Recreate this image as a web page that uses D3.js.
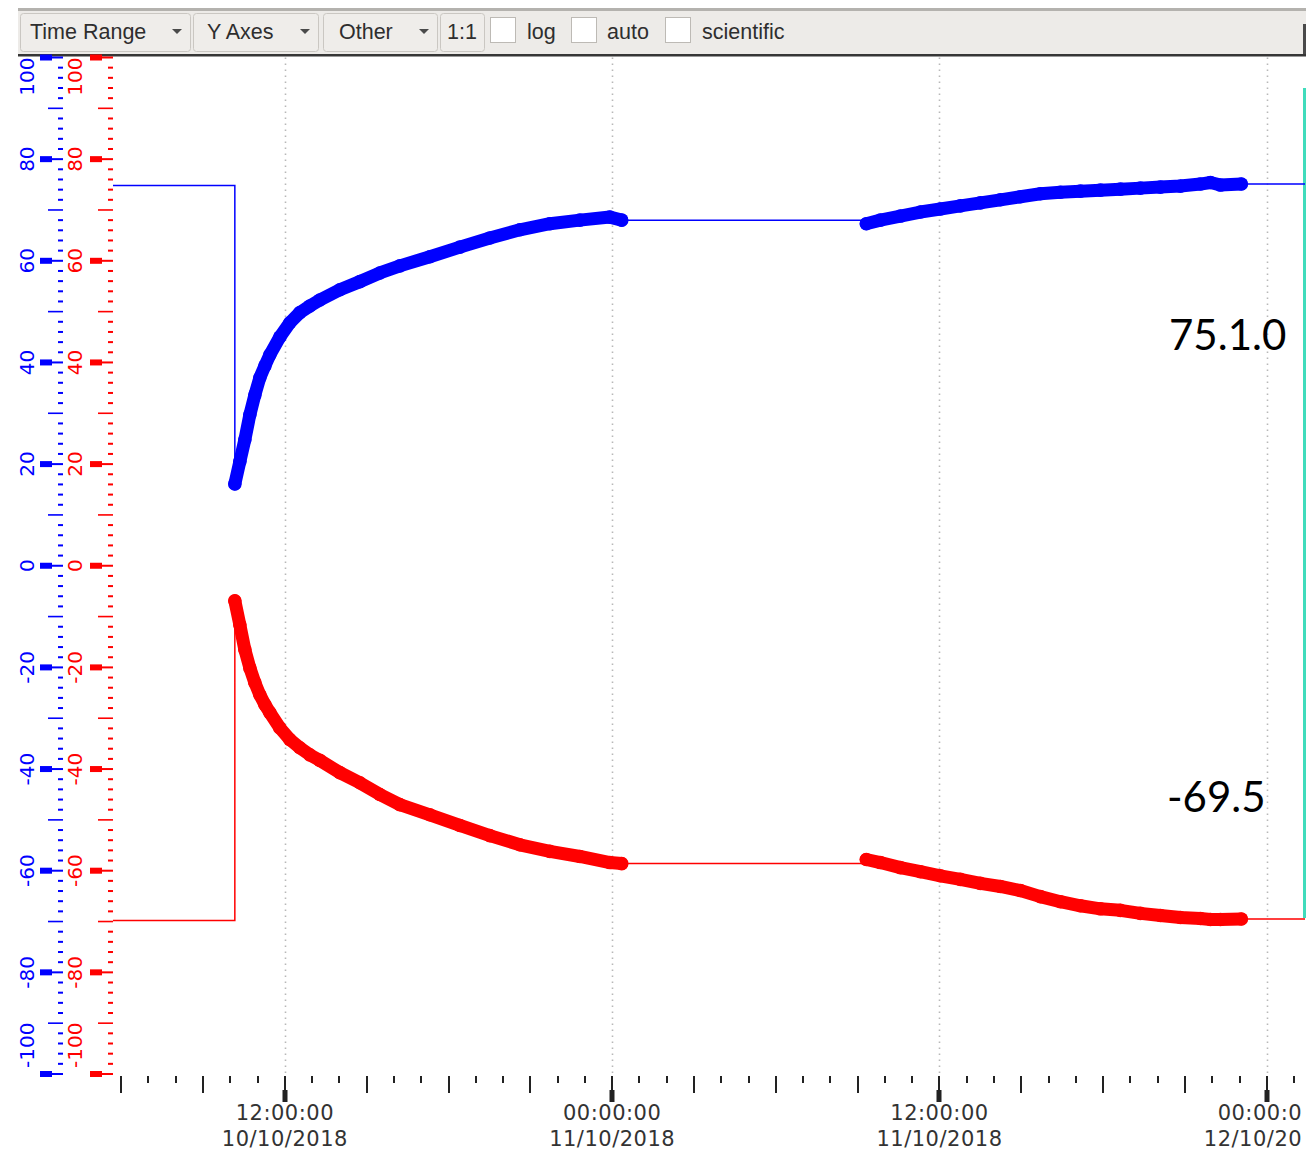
<!DOCTYPE html>
<html>
<head>
<meta charset="utf-8">
<script src="https://cdn.jsdelivr.net/npm/d3@7"></script>
<style>
  body { margin: 0; background: #fff; }
  svg { display: block; }
</style>
</head>
<body>
<svg id="chart" width="1306" height="1151"></svg>
<script>
// ---- data -------------------------------------------------------------
const menuLabels = ["Time Range", "Y Axes", "Other"];
const ratioLabel = "1:1";
const optionLabels = ["log", "auto", "scientific"];

// last archived sample before the visible window
const priorTime = "2018-10-10 04:00";
const priorBlue = 74.8;
const priorRed = -69.8;

// first archived run
const run1Times = ["2018-10-10 10:10","2018-10-10 10:21","2018-10-10 10:32","2018-10-10 10:43",
  "2018-10-10 10:54","2018-10-10 11:05","2018-10-10 11:16","2018-10-10 11:27","2018-10-10 11:49",
  "2018-10-10 12:11","2018-10-10 12:33","2018-10-10 12:55","2018-10-10 13:17","2018-10-10 14:01",
  "2018-10-10 14:45","2018-10-10 15:29","2018-10-10 16:13","2018-10-10 17:19","2018-10-10 18:25",
  "2018-10-10 19:31","2018-10-10 20:37","2018-10-10 21:43","2018-10-10 22:49","2018-10-10 23:55",
  "2018-10-11 00:21"];
const run1Blue = [16.1,20.5,24.8,29.7,33.6,37.0,39.3,41.5,45.0,47.8,49.8,51.1,52.3,54.3,55.9,57.6,
  59.0,60.8,62.7,64.5,66.1,67.3,68.0,68.6,68.0];
const run1Red = [-6.9,-11.6,-16.5,-20.1,-23.0,-25.4,-27.3,-28.9,-31.9,-34.2,-35.8,-37.2,-38.3,-40.7,
  -42.7,-45.0,-47.0,-49.0,-51.1,-53.1,-54.9,-56.2,-57.2,-58.4,-58.6];

// second archived run
const run2Times = ["2018-10-11 09:19","2018-10-11 09:50","2018-10-11 10:34","2018-10-11 11:18",
  "2018-10-11 12:02","2018-10-11 12:46","2018-10-11 13:30","2018-10-11 14:14","2018-10-11 14:58",
  "2018-10-11 15:42","2018-10-11 16:26","2018-10-11 17:10","2018-10-11 17:54","2018-10-11 18:38",
  "2018-10-11 19:22","2018-10-11 20:06","2018-10-11 20:50","2018-10-11 21:34","2018-10-11 21:56",
  "2018-10-11 22:18","2018-10-11 23:04"];
const run2Blue = [67.3,68.0,68.8,69.6,70.2,70.8,71.4,72.0,72.6,73.2,73.5,73.7,73.9,74.1,74.3,74.5,
  74.7,75.1,75.4,74.9,75.1];
const run2Red = [-57.8,-58.4,-59.4,-60.2,-61.0,-61.7,-62.5,-63.1,-63.9,-65.1,-66.1,-66.9,-67.5,
  -67.8,-68.4,-68.8,-69.2,-69.4,-69.6,-69.6,-69.5];

const timeWindow = ["2018-10-10 05:42", "2018-10-12 01:24"];
const valueRange = [-100, 100];
const valueLabels = ["75.1.0", "-69.5"];

// ---- setup ------------------------------------------------------------
const parse = d3.timeParse("%Y-%m-%d %H:%M");
const BLUE = "#0000ff", RED = "#ff0000";
const svg = d3.select("#chart");
svg.append("rect").attr("width", 1306).attr("height", 1151).attr("fill", "#fff");

const plot = { left: 113, right: 1305, top: 57.5, bottom: 1074 };
const x = d3.scaleTime().domain(timeWindow.map(parse)).range([plot.left, plot.right]);
const y = d3.scaleLinear().domain(valueRange).range([plot.bottom, plot.top]);

const defs = svg.append("defs");
defs.append("clipPath").attr("id", "plotClip")
  .append("rect").attr("x", plot.left).attr("y", 0).attr("width", 1306 - plot.left).attr("height", 1151);
defs.append("clipPath").attr("id", "labelClip")
  .append("rect").attr("x", 0).attr("y", 0).attr("width", 1302).attr("height", 1151);

// ---- toolbar ----------------------------------------------------------
const tb = svg.append("g").attr("font-family", "'Liberation Sans', Arial, sans-serif")
  .attr("font-size", 21.5).attr("fill", "#2e2e2e");
tb.append("rect").attr("x", 18).attr("y", 8).attr("width", 1288).attr("height", 3).attr("fill", "#b4b2ae");
tb.append("rect").attr("x", 18).attr("y", 11).attr("width", 1288).attr("height", 43).attr("fill", "#edebe8");
tb.append("rect").attr("x", 18).attr("y", 54).attr("width", 1288).attr("height", 2.5).attr("fill", "#363636");
tb.append("rect").attr("x", 1303).attr("y", 24).attr("width", 3).attr("height", 30).attr("fill", "#4a4a4a");

const menuBoxes = [[20, 170, 10], [193, 125, 14], [323, 114, 16]];
menuLabels.forEach((label, i) => {
  const [bx, bw, pad] = menuBoxes[i];
  tb.append("rect").attr("x", bx + 0.5).attr("y", 13.5).attr("width", bw).attr("height", 38)
    .attr("rx", 3).attr("fill", "#efedea").attr("stroke", "#cac7c2");
  tb.append("text").attr("x", bx + pad).attr("y", 39).text(label);
  const ax = bx + bw - 13;
  tb.append("path").attr("d", `M${ax - 5},29 L${ax + 5},29 L${ax},34 Z`).attr("fill", "#4a4a4a");
});
tb.append("rect").attr("x", 440.5).attr("y", 13.5).attr("width", 44).attr("height", 38)
  .attr("rx", 3).attr("fill", "#efedea").attr("stroke", "#cac7c2");
tb.append("text").attr("x", 447).attr("y", 39).text(ratioLabel);

const optionBoxes = [[490, 527], [571, 607], [665, 702]];
optionLabels.forEach((label, i) => {
  const [cx, tx] = optionBoxes[i];
  tb.append("rect").attr("x", cx + 0.5).attr("y", 17.5).attr("width", 25).attr("height", 25)
    .attr("fill", "#fff").attr("stroke", "#bdbab5");
  tb.append("text").attr("x", tx).attr("y", 39).text(label);
});

// ---- right-hand strip -------------------------------------------------
svg.append("rect").attr("x", 1303).attr("y", 88).attr("width", 3).attr("height", 830).attr("fill", "#40dcbc");

// ---- vertical grid ----------------------------------------------------
const hours = d3.timeHour.range(x.domain()[0], x.domain()[1]);
const majors = hours.filter(d => d.getHours() % 12 === 0);
svg.append("g").selectAll("line").data(majors).join("line")
  .attr("x1", d => Math.round(x(d)) + 0.5).attr("x2", d => Math.round(x(d)) + 0.5)
  .attr("y1", plot.top).attr("y2", plot.bottom + 2)
  .attr("stroke", "#b8b8b8").attr("stroke-width", 1.6).attr("stroke-dasharray", "1.6,4.4");

// ---- value axes -------------------------------------------------------
function valueAxis(color, labelX, barX0, barX1, endX, medX0, minX0) {
  const g = svg.append("g").attr("fill", color);
  const ticks = d3.range(valueRange[0], valueRange[1] + 1, 2);
  ticks.forEach(v => {
    const ty = y(v);
    if (v % 20 === 0) {
      g.append("rect").attr("x", barX0).attr("y", ty - 3).attr("width", barX1 - barX0).attr("height", 6);
      g.append("rect").attr("x", barX1).attr("y", ty - 1).attr("width", endX - barX1).attr("height", 2);
    } else if (v % 10 === 0) {
      g.append("rect").attr("x", medX0).attr("y", ty - 0.8).attr("width", endX - medX0).attr("height", 1.6);
    } else {
      g.append("rect").attr("x", minX0).attr("y", ty - 1).attr("width", endX - minX0).attr("height", 2);
    }
  });
  ticks.filter(v => v % 20 === 0).forEach(v => {
    const t = g.append("text").attr("font-family", "'DejaVu Sans', sans-serif").attr("font-size", 20)
      .attr("text-anchor", "middle").attr("dominant-baseline", "central").text(v);
    const half = t.node().getComputedTextLength() / 2;
    const cy = Math.min(Math.max(y(v), plot.top + half), 1068 - half);
    t.attr("transform", `translate(${labelX},${cy}) rotate(-90)`);
  });
}
valueAxis(BLUE, 27, 40, 52, 63, 48, 58);
valueAxis(RED, 75, 90, 102, 113, 98, 108);

// ---- time axis --------------------------------------------------------
const ta = svg.append("g").attr("fill", "#222");
hours.forEach(d => {
  const tx = Math.round(x(d));
  const h = d.getHours();
  if (h % 12 === 0) {
    ta.append("rect").attr("x", tx - 1).attr("y", 1076).attr("width", 2).attr("height", 15);
    ta.append("rect").attr("x", tx - 2.5).attr("y", 1090).attr("width", 5).attr("height", 12);
  } else if (h % 3 === 0) {
    ta.append("rect").attr("x", tx - 1).attr("y", 1076).attr("width", 2).attr("height", 17);
  } else {
    ta.append("rect").attr("x", tx - 1).attr("y", 1076).attr("width", 2).attr("height", 7);
  }
});
const timeFmt = d3.timeFormat("%H:%M:%S"), dateFmt = d3.timeFormat("%d/%m/%Y");
const tl = svg.append("g").attr("clip-path", "url(#labelClip)")
  .attr("font-family", "'DejaVu Sans', sans-serif").attr("font-size", 21)
  .attr("letter-spacing", 0.5).attr("fill", "#333").attr("text-anchor", "middle");
majors.forEach(d => {
  tl.append("text").attr("x", x(d)).attr("y", 1120).text(timeFmt(d));
  tl.append("text").attr("x", x(d)).attr("y", 1146).text(dateFmt(d));
});

// ---- series -----------------------------------------------------------
// Thin trace: value held (step) between archived runs, direct within a run;
// each run's samples are drawn as dense round markers on top.
function series(color, prior, runs) {
  const g = svg.append("g").attr("clip-path", "url(#plotClip)");
  const runPts = runs.map(r => r.times.map((t, i) => [parse(t), r.values[i]]));
  let held = prior;
  let d = `M${x(parse(priorTime))},${y(prior)}`;
  runPts.forEach(rp => {
    d += `L${x(rp[0][0])},${y(held)}`;
    rp.forEach(p => { d += `L${x(p[0])},${y(p[1])}`; });
    held = rp[rp.length - 1][1];
  });
  d += `L${x(x.domain()[1])},${y(held)}`;
  g.append("path").attr("d", d).attr("fill", "none").attr("stroke", color).attr("stroke-width", 1.5);

  const dense = d3.line().x(p => x(p[0])).y(p => y(p[1]));
  runPts.forEach(rp => {
    g.append("path").attr("d", dense(rp)).attr("fill", "none").attr("stroke", color)
      .attr("stroke-width", 13).attr("stroke-linecap", "round").attr("stroke-linejoin", "round");
    g.selectAll(null).data(rp).join("circle")
      .attr("cx", p => x(p[0])).attr("cy", p => y(p[1])).attr("r", 6.8).attr("fill", color);
  });
}
series(BLUE, priorBlue, [{ times: run1Times, values: run1Blue }, { times: run2Times, values: run2Blue }]);
series(RED, priorRed, [{ times: run1Times, values: run1Red }, { times: run2Times, values: run2Red }]);

// ---- current value labels ---------------------------------------------
const vl = svg.append("g").attr("font-family", "Lato, 'Open Sans', sans-serif").attr("font-size", 42).attr("fill", "#000");
vl.append("text").attr("x", 1169).attr("y", 350).text(valueLabels[0]);
vl.append("text").attr("x", 1167).attr("y", 812).text(valueLabels[1]);
</script>
</body>
</html>
